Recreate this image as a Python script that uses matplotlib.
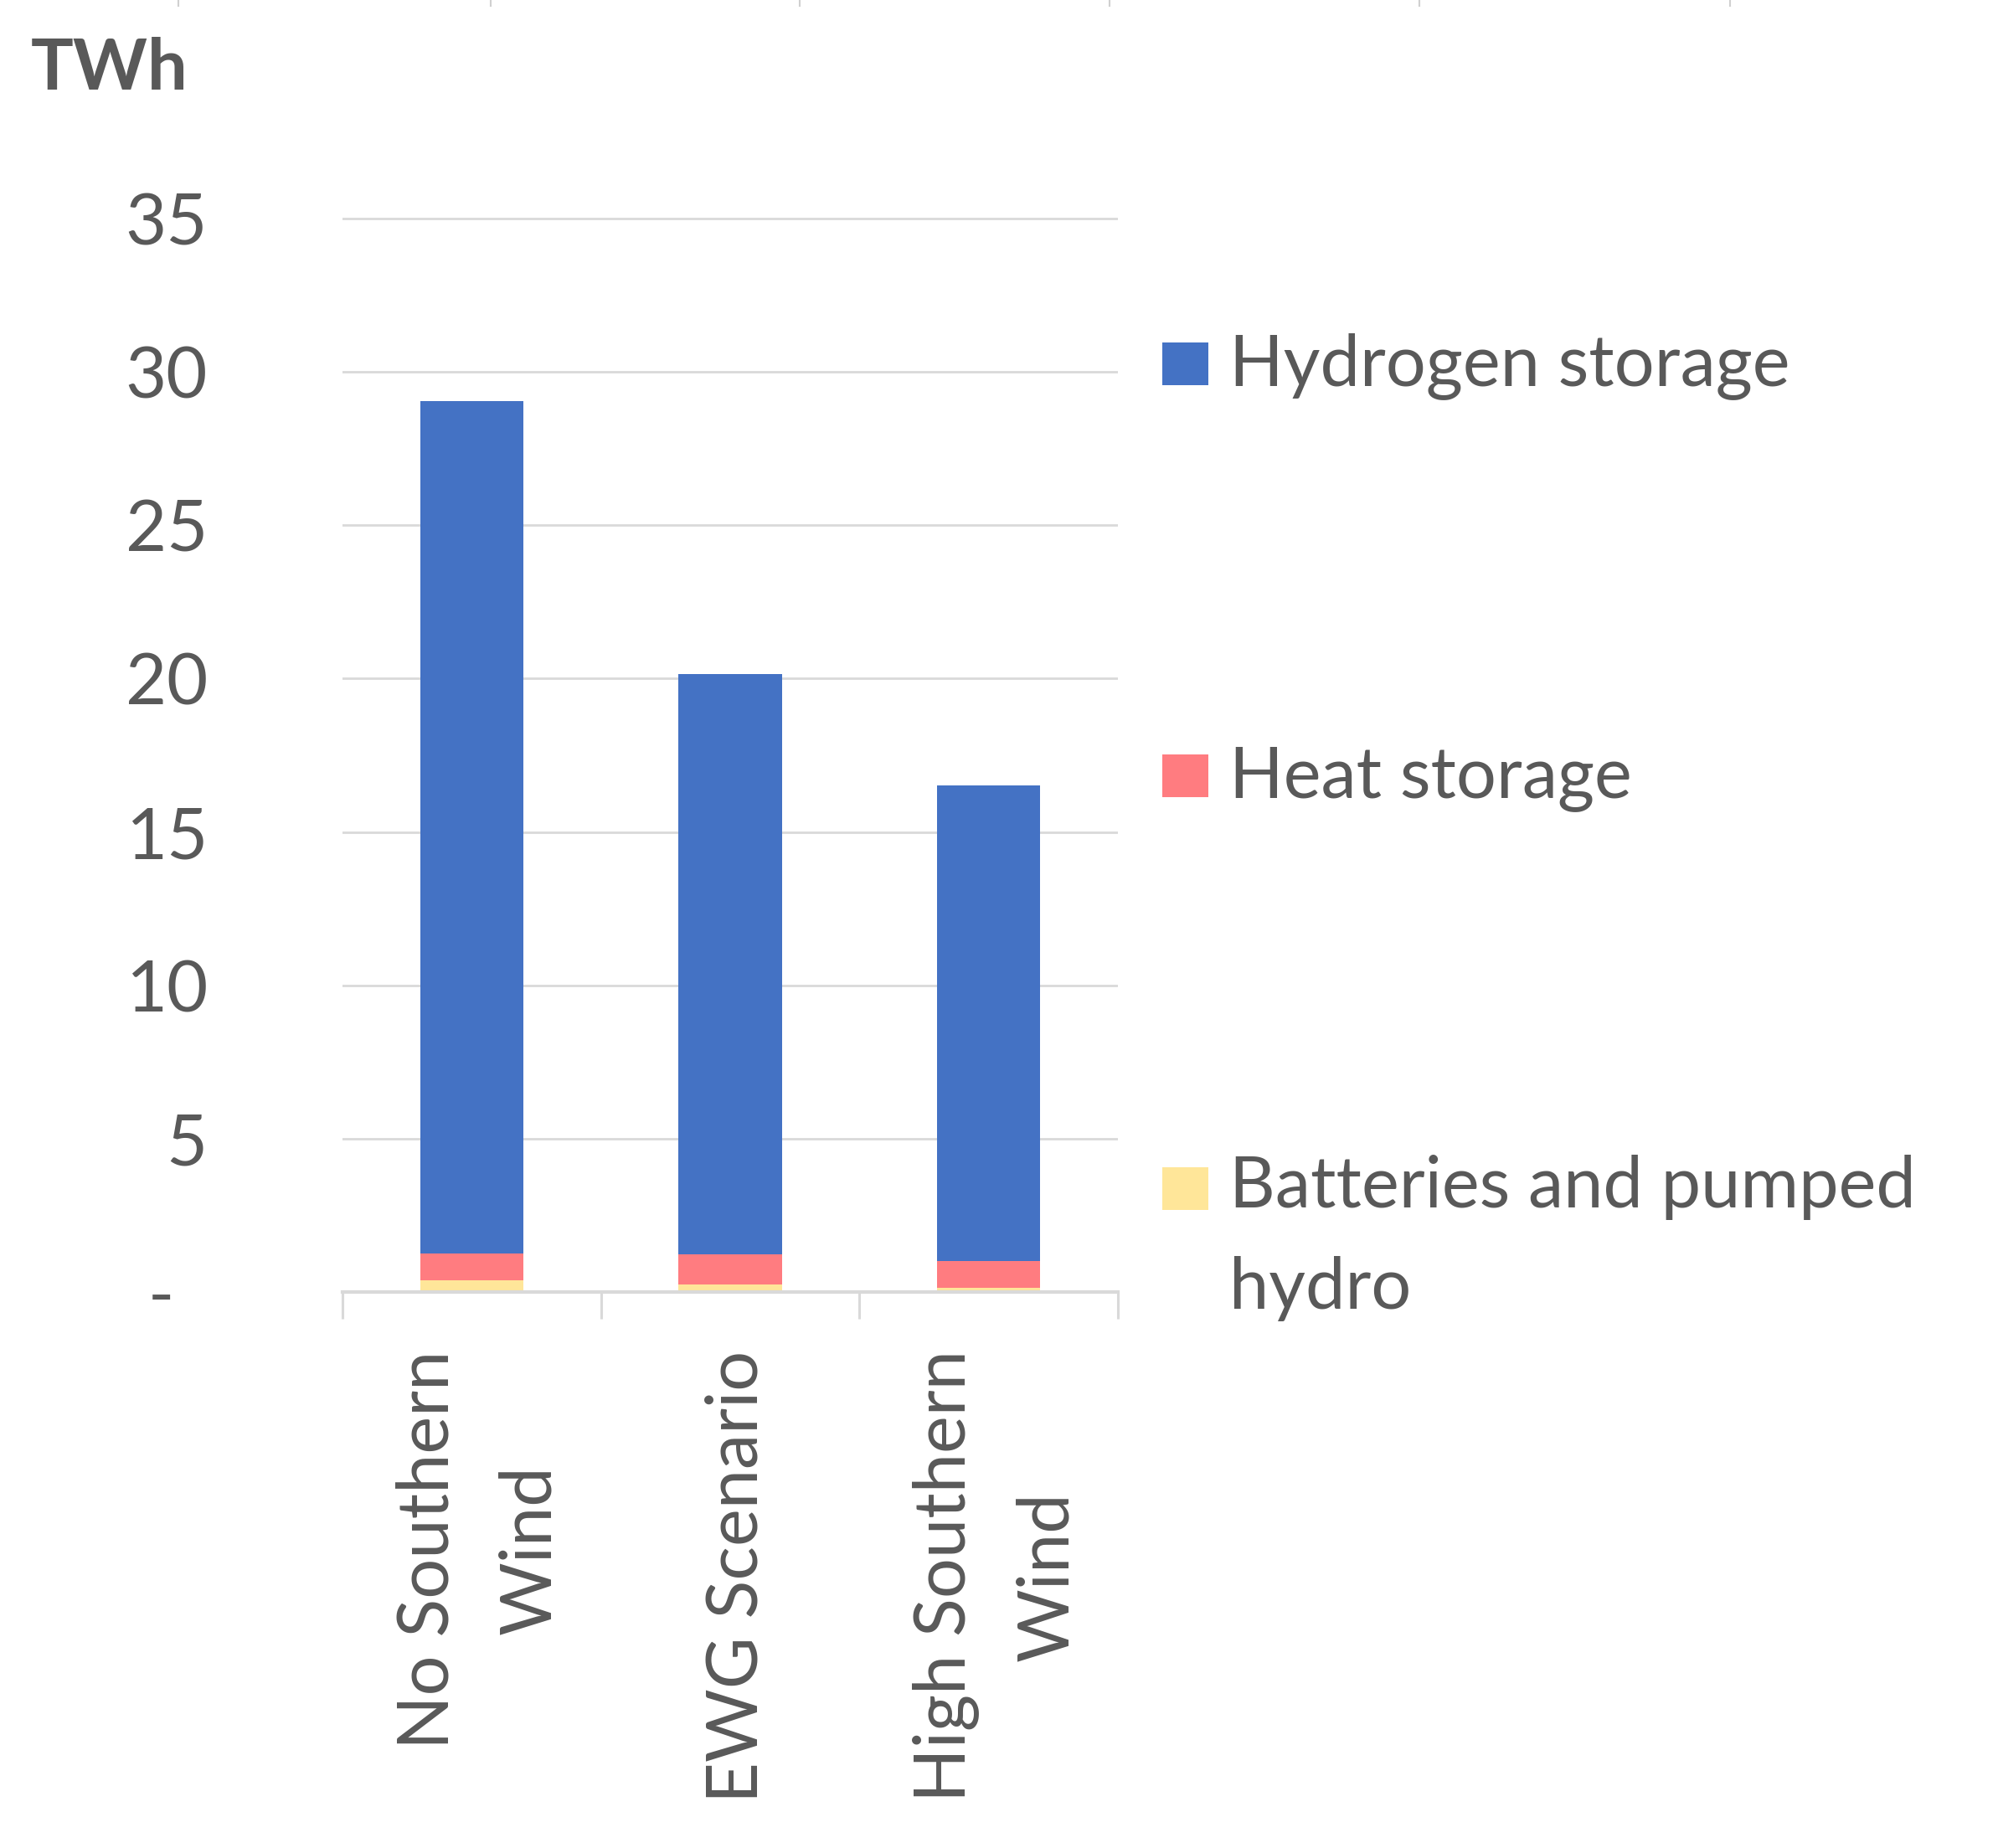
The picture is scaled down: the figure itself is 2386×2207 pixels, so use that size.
import matplotlib
matplotlib.use("Agg")
import matplotlib.pyplot as plt
from matplotlib.patches import Rectangle
from matplotlib.lines import Line2D
from matplotlib.transforms import ScaledTranslation
import numpy as np

# ---------------- data ----------------
categories = ["No Southern\nWind", "EWG Scenario", "High Southern\nWind"]
series_names = ["Batteries and pumped\nhydro", "Heat storage", "Hydrogen storage"]
batteries = [0.38, 0.25, 0.14]
heat = [0.87, 0.99, 0.87]
hydrogen = [27.8, 18.9, 15.5]
series_colors = ["#FFE699", "#FF7C80", "#4472C4"]
y_ticks = [0, 5, 10, 15, 20, 25, 30, 35]
y_tick_labels = ["-", "5", "10", "15", "20", "25", "30", "35"]
unit_label = "TWh"

# ---------------- layout ----------------
W, H = 2386, 2207
DPI = 100
plt.rcParams["font.family"] = ["Lato", "DejaVu Sans"]
TXT = "#595959"
GRID = "#d9d9d9"
FS = 61
LS = 1.68

fig = plt.figure(figsize=(W / DPI, H / DPI), dpi=DPI)
fig.patch.set_facecolor("white")

def rect_px(x0, y0, x1, y1):
    return [x0 / W, 1 - y1 / H, (x1 - x0) / W, (y1 - y0) / H]

ymax = 35.2
zero_y, y35 = 1543, 261
unit = (zero_y - y35) / 35.0
top_px = zero_y - unit * ymax
ax = fig.add_axes(rect_px(409, top_px, 1335, zero_y))

x = np.arange(len(categories))
stack = [batteries, heat, hydrogen]
bottom = np.zeros(len(categories))
for vals, col, name in zip(stack, series_colors, series_names):
    ax.bar(x, vals, width=0.4, bottom=bottom, color=col, label=name,
           edgecolor="none", zorder=3)
    bottom = bottom + np.array(vals)

ax.set_xlim(-0.5, len(categories) - 0.5)
ax.set_ylim(0, ymax)

ax.set_yticks(y_ticks)
ax.set_yticklabels(y_tick_labels)
ax.yaxis.grid(True, color=GRID, linewidth=2.0, zorder=0)
ax.set_axisbelow(True)
ax.tick_params(axis="y", length=0, pad=116, labelsize=FS, labelcolor=TXT)

# shift the "-" zero label like Excel accounting format
zl = ax.get_yticklabels()[0]
zl.set_transform(zl.get_transform() + ScaledTranslation(-0.40, 0.0, fig.dpi_scale_trans))

ax.set_xticks(x)
ax.set_xticklabels(categories, rotation=90, ha="center", va="top",
                   multialignment="center", linespacing=LS)
ax.set_xticks(np.arange(-0.5, len(categories), 1.0), minor=True)
ax.tick_params(axis="x", which="major", length=0, pad=50, labelsize=FS, labelcolor=TXT)
ax.tick_params(axis="x", which="minor", length=23, width=2.2, color=GRID, direction="out")
for lbl in ax.get_xticklabels():
    lbl.set_transform(lbl.get_transform() + ScaledTranslation(0.09, 0.0, fig.dpi_scale_trans))

for s in ["left", "right", "top"]:
    ax.spines[s].set_visible(False)
ax.spines["bottom"].set_color(GRID)
ax.spines["bottom"].set_linewidth(3.0)
ax.spines["bottom"].set_zorder(4)

# ---------------- unit label ----------------
fig.text(37 / W, 1 - 107 / H, unit_label, fontsize=FS, fontweight="bold",
         color=TXT, ha="left", va="baseline")

# ---------------- legend (Excel style, spread vertically) ----------------
first_baselines = [460, 952, 1445]  # top to bottom, baseline of first text line
line_step = 118
order = [2, 1, 0]
for row, idx in enumerate(order):
    bl = first_baselines[row]
    name = series_names[idx]
    nlines = name.count("\n")
    fig.patches.append(Rectangle((1388 / W, 1 - bl / H), 55 / W, 51 / H,
                                 transform=fig.transFigure, facecolor=series_colors[idx],
                                 edgecolor="none"))
    # baseline alignment refers to the last line of a multi-line text
    last_bl = bl + nlines * line_step
    fig.text(1468 / W, 1 - last_bl / H, name, fontsize=FS, color=TXT,
             ha="left", va="baseline", linespacing=LS)

# ---------------- small marks at the very top edge ----------------
for xp in [213, 586, 955, 1325, 1695, 2066]:
    fig.add_artist(Line2D([xp / W, xp / W], [1.0, 1 - 7 / H], transform=fig.transFigure,
                          color="#d0d0d0", linewidth=1.5))

fig.savefig("out.png", dpi=DPI, facecolor="white")
